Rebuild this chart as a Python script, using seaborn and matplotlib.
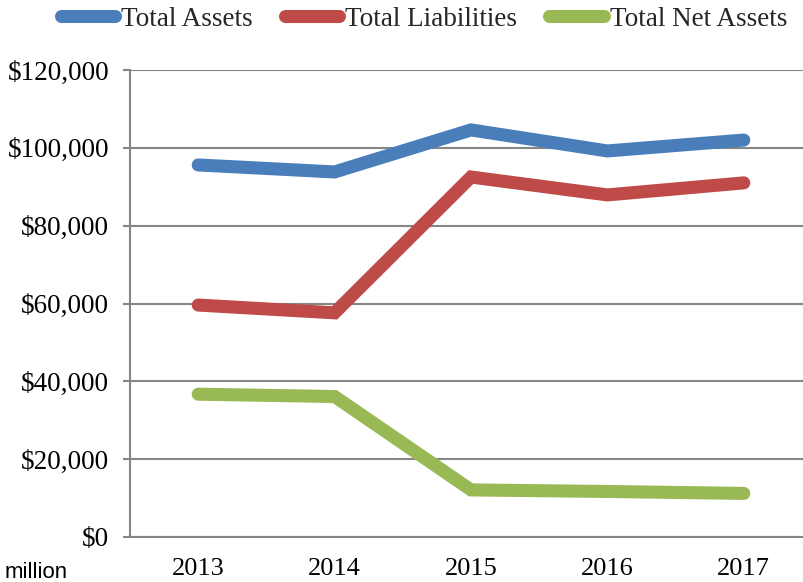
import matplotlib
matplotlib.use("Agg")
import matplotlib.pyplot as plt
from matplotlib.lines import Line2D
from matplotlib.ticker import FixedLocator, FuncFormatter
import seaborn as sns
import pandas as pd

years = ["2013", "2014", "2015", "2016", "2017"]
total_assets = [95600, 93800, 104600, 99200, 102000]
total_liabilities = [59600, 57600, 92500, 87900, 91000]
total_net_assets = [36700, 36100, 12100, 11700, 11200]

series_names = ["Total Assets", "Total Liabilities", "Total Net Assets"]
series_colors = ["#4a7ebb", "#be4b48", "#98b954"]

rows = []
for name, vals in zip(series_names, [total_assets, total_liabilities, total_net_assets]):
    for i, (yr, v) in enumerate(zip(years, vals)):
        rows.append({"pos": i, "year": yr, "value": v, "series": name})
df = pd.DataFrame(rows)

sns.set_theme(style="white")
plt.rcParams["font.family"] = ["Liberation Serif", "DejaVu Serif"]

fig = plt.figure(figsize=(8.04, 5.82), dpi=100)
ax = fig.add_axes([130 / 804, 45 / 582, 682 / 804, 467 / 582])

grid_color = "#868686"
lw = 9.4

sns.lineplot(data=df, x="pos", y="value", hue="series", hue_order=series_names,
             palette=series_colors, linewidth=lw, legend=False, ax=ax, sort=False)
for ln in ax.get_lines():
    ln.set_solid_capstyle("round")
    ln.set_solid_joinstyle("miter")

ax.set_xlim(-0.5, 4.5)
ax.set_ylim(0, 120000)
ax.set_yticks(range(0, 120001, 20000))
ax.yaxis.set_major_formatter(FuncFormatter(lambda v, p: f"${int(v):,}"))
ax.set_xticks(range(len(years)))
ax.set_xticklabels(years)
ax.xaxis.set_minor_locator(FixedLocator([-0.5, 0.5, 1.5, 2.5, 3.5]))
ax.tick_params(axis="x", which="major", length=0, pad=15, labelsize=19, labelcolor="black")
ax.tick_params(axis="x", which="minor", length=4.5, width=1.5, color=grid_color, direction="out")
ax.tick_params(axis="y", which="major", length=5, width=1.5, color=grid_color, direction="out",
               pad=10, labelsize=19.5, labelcolor="black", left=True)
ax.set_xlabel("")
ax.set_ylabel("")

ax.grid(axis="y", color=grid_color, linewidth=1.5)
ax.grid(axis="x", visible=False)
ax.set_axisbelow(True)
for side in ["top", "right"]:
    ax.spines[side].set_visible(False)
for side in ["left", "bottom"]:
    ax.spines[side].set_color(grid_color)
    ax.spines[side].set_linewidth(1.5)

fig.text(5 / 804, 1 - 573 / 582, "million", fontsize=16, family=["Liberation Sans", "DejaVu Sans"],
         va="center", ha="left", color="black")

handles = [Line2D([0], [0], color=c, linewidth=lw, solid_capstyle="round") for c in series_colors]
fig.legend(handles, series_names, loc="center", bbox_to_anchor=(0.527, 1 - 19 / 582), ncol=3,
           frameon=False, fontsize=19.5, handlelength=2.0, handletextpad=0.22,
           columnspacing=1.2, borderaxespad=0, borderpad=0)

fig.savefig("out.png", dpi=100)
